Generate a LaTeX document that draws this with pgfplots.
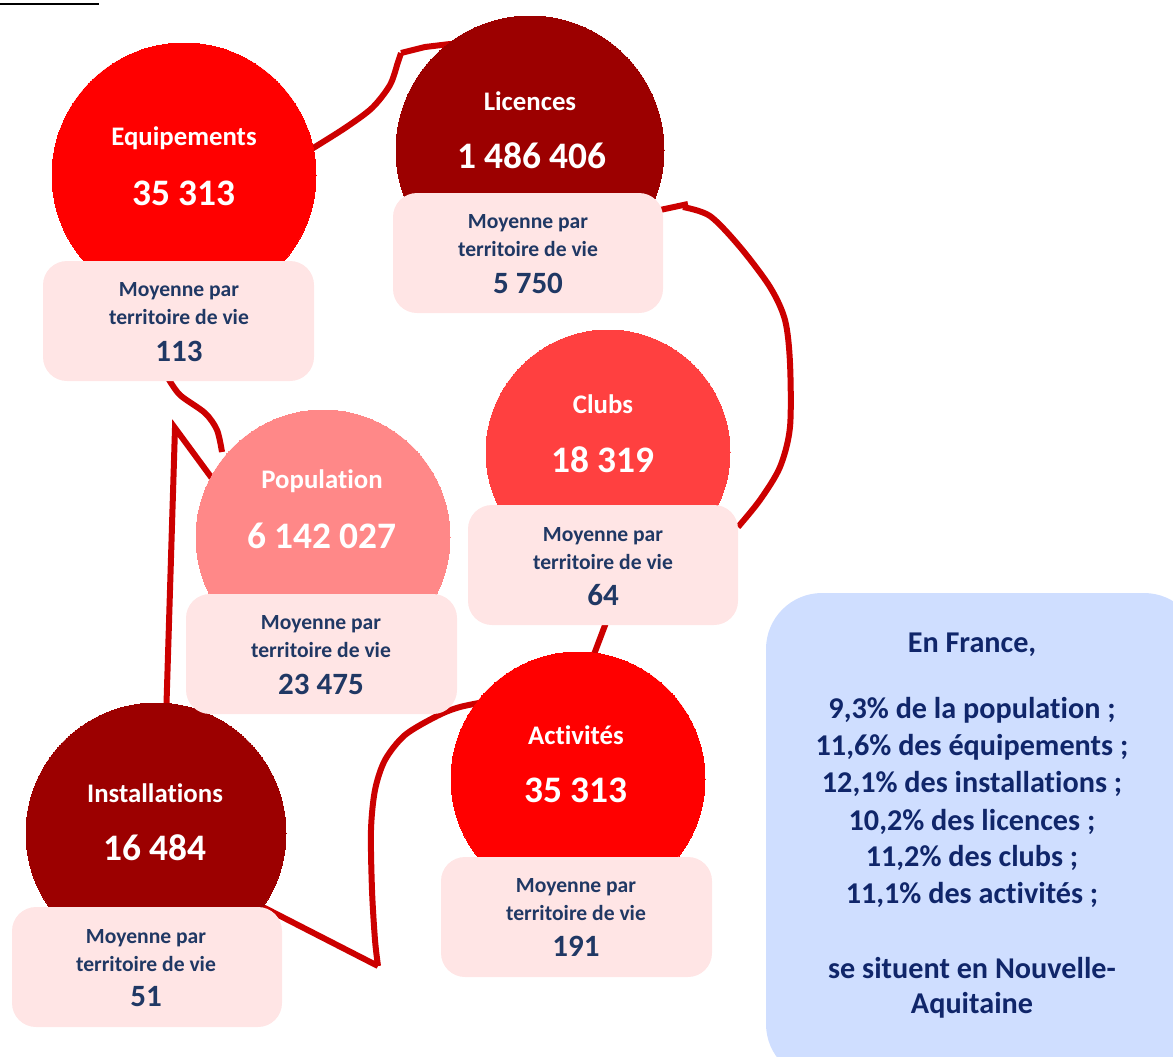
\documentclass[border=0pt]{standalone}
\usepackage{pgfplots}
\pgfplotsset{compat=1.18}
\usepackage{fontspec}
\setmainfont{Carlito}[Ligatures=NoCommon]
\definecolor{rouge}{HTML}{FF0000}
\definecolor{bordeaux}{HTML}{9C0000}
\definecolor{rougeclair}{HTML}{FF4040}
\definecolor{saumon}{HTML}{FF8888}
\definecolor{rose}{HTML}{FFE5E5}
\definecolor{trait}{HTML}{CC0000}
\definecolor{marine}{HTML}{203864}
\definecolor{bleufond}{HTML}{CFDEFF}
\definecolor{bleutexte}{HTML}{10266A}

\newcommand{\flab}{\fontsize{13.4}{16}\selectfont\bfseries}
\newcommand{\fnum}{\fontsize{18.7}{21}\selectfont\bfseries}
\newcommand{\fmoy}{\fontsize{10.8}{13}\selectfont\bfseries}
\newcommand{\fval}{\fontsize{15.5}{18}\selectfont\bfseries}
\newcommand{\ffr}{\fontsize{15.1}{17}\selectfont\bfseries}

\begin{document}
\begin{tikzpicture}
\begin{axis}[
    x=0.5pt, y=0.5pt,
    xmin=0, xmax=1173, ymin=0, ymax=1056,
    y dir=reverse,
    axis lines=none, ticks=none,
    clip marker paths=true,
    rond/.style={only marks, mark=*, color=#1, mark options={fill=#1, draw=#1, line width=0pt}},
    cartouche/.style={fill=#1, draw=none, rounded corners=12pt},
]
\addplot[draw=none] coordinates {(0,0) (1173,1056)};
% trait souligne (titre coupe)
\addplot[black, line width=0.8pt] coordinates {(0,4) (99,4)};

% liaisons
\addplot[trait, line width=3pt, smooth] coordinates {(310,150) (345,128) (372,108) (390,85) (398,62) (401,53)};
\addplot[trait, line width=3pt] coordinates {(401,53) (425,47) (450,44) (480,44)};
\addplot[trait, line width=3pt] coordinates {(660,210) (688,204)};
\addplot[trait, line width=3pt, smooth] coordinates {(683,207) (710,216) (740,247) (770,287) (785,320) (790,363) (790,427) (780,467) (760,500) (738,527)};
\addplot[trait, line width=3pt, smooth] coordinates {(168,378) (180,395) (205,413) (217,430) (222,452)};
\addplot[trait, line width=3pt] coordinates {(222,492) (175,428) (166,720)};
\addplot[trait, line width=3pt] coordinates {(607,620) (590,665)};
\addplot[trait, line width=3pt, smooth] coordinates {(495,700) (460,707) (437,716) (405,735) (385,760) (375,790) (371,830) (372,890) (375,940) (378,966)};
\addplot[trait, line width=3pt] coordinates {(378,966) (255,903)};

% cercles
\addplot[rond=rouge, mark size=66pt] coordinates {(184,175)};
\addplot[rond=bordeaux, mark size=67pt] coordinates {(530,150)};
\addplot[rond=rougeclair, mark size=61pt] coordinates {(608,452)};
\addplot[rond=saumon, mark size=63.5pt] coordinates {(323,537)};
\addplot[rond=rouge, mark size=63.5pt] coordinates {(578,779)};
\addplot[rond=bordeaux, mark size=65pt] coordinates {(156,833)};

% cartouches
\addplot[cartouche=rose] coordinates {(43,261) (314,261) (314,381) (43,381)} --cycle;
\addplot[cartouche=rose] coordinates {(393,193) (663,193) (663,313) (393,313)} --cycle;
\addplot[cartouche=rose] coordinates {(468,505) (738,505) (738,625) (468,625)} --cycle;
\addplot[cartouche=rose] coordinates {(186,594) (457,594) (457,714) (186,714)} --cycle;
\addplot[cartouche=rose] coordinates {(441,857) (712,857) (712,977) (441,977)} --cycle;
\addplot[cartouche=rose] coordinates {(12,907) (282,907) (282,1027) (12,1027)} --cycle;
\addplot[fill=bleufond, draw=none, rounded corners=28pt] coordinates {(766,593) (1200,593) (1200,1080) (766,1080)} --cycle;

% textes des cercles
\node[text=white, font=\flab] at (axis cs:184,138) {Equipements};
\node[text=white, font=\fnum] at (axis cs:184,193) {35 313};
\node[text=white, font=\flab] at (axis cs:530,101) {Licences};
\node[text=white, font=\fnum] at (axis cs:532,156) {1 486 406};
\node[text=white, font=\flab] at (axis cs:603,404) {Clubs};
\node[text=white, font=\fnum] at (axis cs:603,460) {18 319};
\node[text=white, font=\flab] at (axis cs:322,481) {Population};
\node[text=white, font=\fnum] at (axis cs:322,536) {6 142 027};
\node[text=white, font=\flab] at (axis cs:576,735) {Activités};
\node[text=white, font=\fnum] at (axis cs:576,790) {35 313};
\node[text=white, font=\flab] at (axis cs:155,793) {Installations};
\node[text=white, font=\fnum] at (axis cs:155,848) {16 484};

% textes des cartouches
\node[text=marine, font=\fmoy] at (axis cs:179,291) {Moyenne par};
\node[text=marine, font=\fmoy] at (axis cs:179,317) {territoire de vie};
\node[text=marine, font=\fval] at (axis cs:179,351) {113};
\node[text=marine, font=\fmoy] at (axis cs:528,223) {Moyenne par};
\node[text=marine, font=\fmoy] at (axis cs:528,249) {territoire de vie};
\node[text=marine, font=\fval] at (axis cs:528,283) {5 750};
\node[text=marine, font=\fmoy] at (axis cs:603,536) {Moyenne par};
\node[text=marine, font=\fmoy] at (axis cs:603,562) {territoire de vie};
\node[text=marine, font=\fval] at (axis cs:603,595) {64};
\node[text=marine, font=\fmoy] at (axis cs:321,624) {Moyenne par};
\node[text=marine, font=\fmoy] at (axis cs:321,650) {territoire de vie};
\node[text=marine, font=\fval] at (axis cs:321,684) {23 475};
\node[text=marine, font=\fmoy] at (axis cs:576,887) {Moyenne par};
\node[text=marine, font=\fmoy] at (axis cs:576,913) {territoire de vie};
\node[text=marine, font=\fval] at (axis cs:576,946) {191};
\node[text=marine, font=\fmoy] at (axis cs:146,938) {Moyenne par};
\node[text=marine, font=\fmoy] at (axis cs:146,964) {territoire de vie};
\node[text=marine, font=\fval] at (axis cs:146,997) {51};

% encadre France
\node[text=bleutexte, font=\ffr] at (axis cs:972,645) {En France,};
\node[text=bleutexte, font=\ffr] at (axis cs:972,710) {9,3\% de la population ;};
\node[text=bleutexte, font=\ffr] at (axis cs:972,747) {11,6\% des équipements ;};
\node[text=bleutexte, font=\ffr] at (axis cs:972,784) {12,1\% des installations ;};
\node[text=bleutexte, font=\ffr] at (axis cs:972,822) {10,2\% des licences ;};
\node[text=bleutexte, font=\ffr] at (axis cs:972,858) {11,2\% des clubs ;};
\node[text=bleutexte, font=\ffr] at (axis cs:972,895) {11,1\% des activités ;};
\node[text=bleutexte, font=\ffr] at (axis cs:972,968) {se situent en Nouvelle-};
\node[text=bleutexte, font=\ffr] at (axis cs:972,1005) {Aquitaine};
\end{axis}
\end{tikzpicture}
\end{document}
